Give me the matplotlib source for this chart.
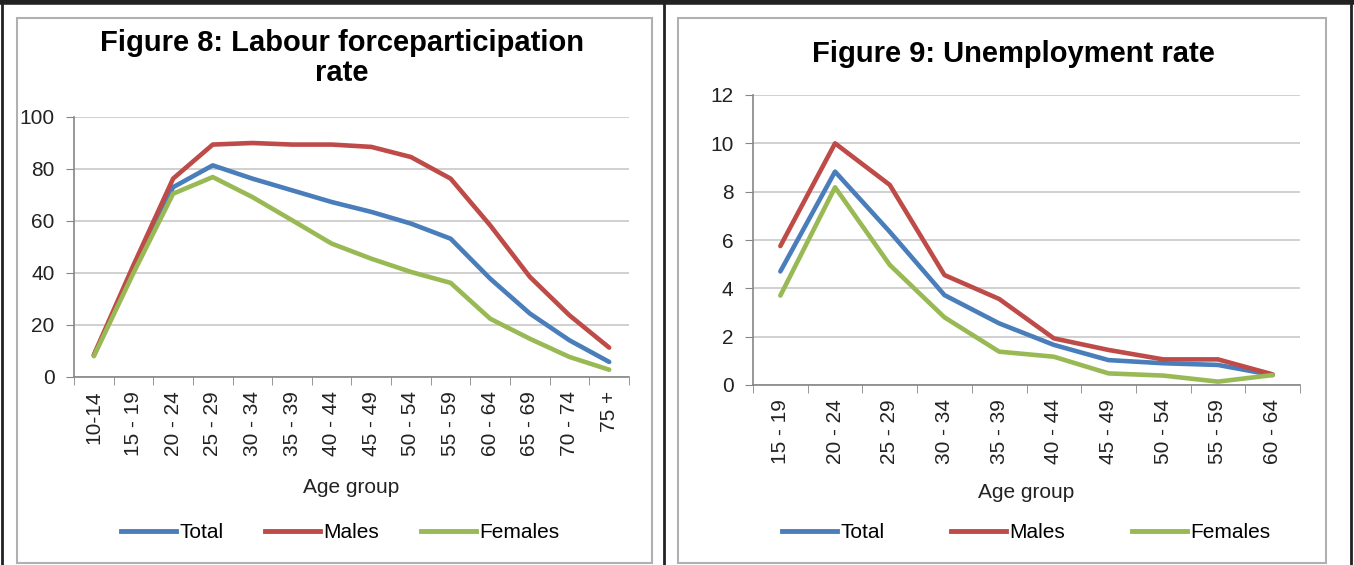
import matplotlib.pyplot as plt
from matplotlib.lines import Line2D
from matplotlib.patches import Rectangle

# Figure 8 data
lfp_groups = ["10-14", "15 - 19", "20 - 24", "25 - 29", "30 - 34", "35 - 39", "40 - 44",
              "45 - 49", "50 - 54", "55 - 59", "60 - 64", "65 - 69", "70 - 74", "75 +"]
lfp_total = [8.3, 41.0, 73.0, 81.4, 76.3, 71.8, 67.3, 63.5, 59.0, 53.2, 37.8, 24.4, 14.1, 5.8]
lfp_males = [8.5, 43.0, 76.3, 89.4, 90.0, 89.4, 89.4, 88.5, 84.6, 76.3, 58.3, 38.5, 23.7, 11.3]
lfp_females = [8.0, 40.0, 70.5, 76.9, 69.2, 60.3, 51.3, 45.5, 40.4, 36.2, 22.4, 14.7, 7.7, 2.8]

# Figure 9 data
ur_groups = ["15 - 19", "20 - 24", "25 - 29", "30 - 34", "35 - 39", "40 - 44",
             "45 - 49", "50 - 54", "55 - 59", "60 - 64"]
ur_total = [4.7, 8.83, 6.34, 3.72, 2.55, 1.66, 1.03, 0.9, 0.83, 0.41]
ur_males = [5.75, 10.0, 8.28, 4.55, 3.56, 1.93, 1.45, 1.06, 1.06, 0.44]
ur_females = [3.7, 8.18, 4.97, 2.8, 1.38, 1.17, 0.48, 0.39, 0.14, 0.41]

series_names = ["Total", "Males", "Females"]
colors = ["#4A7EBB", "#BE4B48", "#98B954"]

plt.rcParams["font.family"] = ["Liberation Sans", "DejaVu Sans"]

W, H = 1354, 565
fig = plt.figure(figsize=(W / 100, H / 100), dpi=100)
FS = 15


def px_box(x0, y_top, x1, y_bot):
    return [x0 / W, 1 - y_bot / H, (x1 - x0) / W, (y_bot - y_top) / H]


def style_axes(ax, groups, ymax, ystep):
    n = len(groups)
    ax.set_xlim(-0.5, n - 0.5)
    ax.set_ylim(0, ymax)
    ax.set_yticks(range(0, ymax + 1, ystep))
    ax.set_xticks(range(n))
    ax.set_xticklabels(groups, rotation=90, fontsize=FS, color="#222222")
    ax.set_xticks([i - 0.5 for i in range(n + 1)], minor=True)
    ax.tick_params(axis="x", which="major", length=0, pad=10)
    ax.tick_params(axis="x", which="minor", length=6, color="#868686", direction="out")
    ax.tick_params(axis="y", length=6, color="#868686", labelsize=FS, labelcolor="#222222", pad=8)
    ax.grid(axis="y", color="#C8C8C8", linewidth=1.2)
    ax.set_axisbelow(True)
    for s in ["top", "right"]:
        ax.spines[s].set_visible(False)
    for s in ["left", "bottom"]:
        ax.spines[s].set_color("#868686")
        ax.spines[s].set_linewidth(1.2)
    ax.set_xlabel("Age group", fontsize=FS, color="#222222", labelpad=16)


# left chart
ax1 = fig.add_axes(px_box(74, 117, 629, 377))
for vals, c in zip([lfp_total, lfp_males, lfp_females], colors):
    ax1.plot(range(len(lfp_groups)), vals, color=c, linewidth=3.3, solid_capstyle="round")
style_axes(ax1, lfp_groups, 100, 20)

# right chart
ax2 = fig.add_axes(px_box(753, 95, 1300, 385))
for vals, c in zip([ur_total, ur_males, ur_females], colors):
    ax2.plot(range(len(ur_groups)), vals, color=c, linewidth=3.3, solid_capstyle="round")
style_axes(ax2, ur_groups, 12, 2)
ax2.xaxis.labelpad = 14

# titles
fig.text(342 / W, 1 - 43 / H, "Figure 8: Labour forceparticipation", ha="center", va="center",
         fontsize=21, fontweight="bold")
fig.text(342 / W, 1 - 73 / H, "rate", ha="center", va="center", fontsize=21, fontweight="bold")
fig.text(1013 / W, 1 - 54 / H, "Figure 9: Unemployment rate", ha="center", va="center",
         fontsize=21, fontweight="bold")

# legends
handles = [Line2D([], [], color=c, linewidth=3.5) for c in colors]
fig.legend(handles, series_names, loc="center", bbox_to_anchor=(340 / W, 1 - 533 / H),
           ncol=3, frameon=False, fontsize=FS, handlelength=2.65, handletextpad=0.15,
           columnspacing=2.0)
fig.legend(handles, series_names, loc="center", bbox_to_anchor=(1026 / W, 1 - 533 / H),
           ncol=3, frameon=False, fontsize=FS, handlelength=2.65, handletextpad=0.15,
           columnspacing=3.2)

# chart boxes and page frame
for x0, x1 in [(17, 652), (678, 1326)]:
    fig.patches.append(Rectangle((x0 / W, 1 - 563 / H), (x1 - x0) / W, (563 - 18) / H,
                                 transform=fig.transFigure, fill=False,
                                 edgecolor="#B0B0B0", linewidth=1.5))
fig.add_artist(Line2D([0, 1], [1 - 2 / H, 1 - 2 / H], transform=fig.transFigure,
                      color="#222222", linewidth=4))
for xp in [1.5, 664, 1351]:
    fig.add_artist(Line2D([xp / W, xp / W], [0, 1], transform=fig.transFigure,
                          color="#222222", linewidth=2))

fig.savefig("out.png", dpi=100)
